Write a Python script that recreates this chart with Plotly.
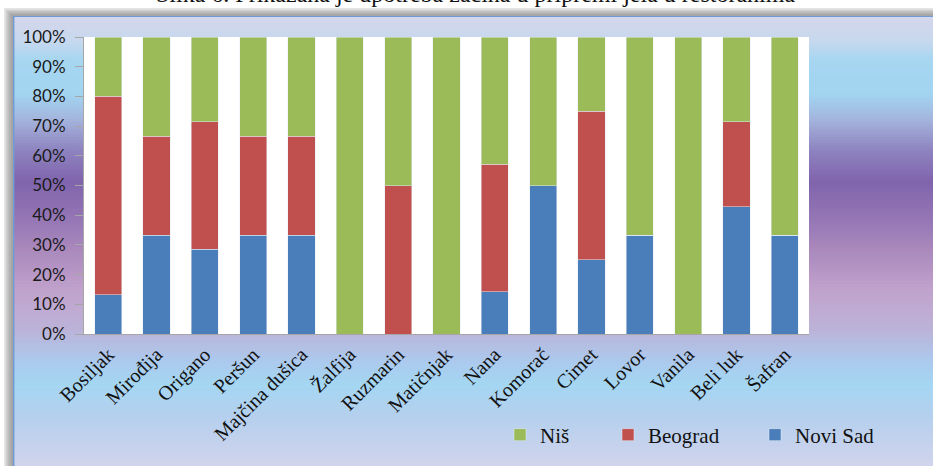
import plotly.graph_objects as go

categories = ["Bosiljak", "Mirođija", "Origano", "Peršun", "Majčina dušica", "Žalfija",
              "Ruzmarin", "Matičnjak", "Nana", "Komorač", "Cimet", "Lovor", "Vanila",
              "Beli luk", "Šafran"]
novi_sad = [13.3, 33.3, 28.6, 33.3, 33.3, 0, 0, 0, 14.3, 50, 25, 33.3, 0, 42.9, 33.3]
beograd = [66.7, 33.3, 42.9, 33.3, 33.3, 0, 50, 0, 42.9, 0, 50, 0, 0, 28.6, 0]
nis = [20.0, 33.4, 28.5, 33.4, 33.4, 100, 50, 100, 42.8, 50, 25, 66.7, 100, 28.5, 66.7]
y_ticks = [0, 10, 20, 30, 40, 50, 60, 70, 80, 90, 100]
y_tick_labels = ["0%", "10%", "20%", "30%", "40%", "50%", "60%", "70%", "80%", "90%", "100%"]
title_text = "Slika 6. Prikazana je upotreba začina u pripremi jela u restoranima"

W, H = 933, 466
ML, MR, MT, MB = 84, 124, 37, 131
PW, PH = W - ML - MR, H - MT - MB


def px(x):
    return (x - ML) / PW


def py(y):
    return (H - MB - y) / PH


def hex2rgb(h):
    h = h.lstrip('#')
    return tuple(int(h[i:i + 2], 16) for i in (0, 2, 4))


stops = [(17, '#d4d6ec'), (40, '#c8d8ee'), (60, '#a6d6f0'), (95, '#a2d4f0'), (120, '#a4b4dc'),
         (150, '#8e84c0'), (182, '#8064ac'), (215, '#9274b4'), (250, '#aa88bc'), (290, '#c2a2cc'),
         (330, '#bcb2d8'), (360, '#acc8ec'), (385, '#a4d6f2'), (420, '#b6d0ee'), (466, '#d0d4ec')]


def color_at(y):
    for (y0, c0), (y1, c1) in zip(stops[:-1], stops[1:]):
        if y0 <= y <= y1:
            t = (y - y0) / (y1 - y0)
            a, b = hex2rgb(c0), hex2rgb(c1)
            return 'rgb(%d,%d,%d)' % tuple(round(a[i] + (b[i] - a[i]) * t) for i in range(3))
    return stops[-1][1]


shapes = []
# shadow of the chart frame
for i, c in enumerate(['#e4e4e4', '#cfcfcf', '#bdbdbd', '#b0b0b0', '#a4a4a4']):
    shapes.append(dict(type='rect', xref='paper', yref='paper', layer='below',
                       x0=px(4 + i * 1.8), x1=px(W + 5), y0=py(8 + i * 1.6), y1=py(H + 5),
                       fillcolor=c, line_width=0))
# frame border
shapes.append(dict(type='rect', xref='paper', yref='paper', layer='below',
                   x0=px(13), x1=px(W + 5), y0=py(16), y1=py(H + 5),
                   fillcolor='#6f9bd6', line_width=0))
# gradient background
step = 3
y = 17
while y < H:
    shapes.append(dict(type='rect', xref='paper', yref='paper', layer='below',
                       x0=px(14.5), x1=px(W + 5), y0=py(y), y1=py(y + step + 0.6),
                       fillcolor=color_at(y + step / 2), line_width=0))
    y += step
# white plot area
shapes.append(dict(type='rect', xref='paper', yref='paper', layer='below',
                   x0=0, x1=1, y0=0, y1=1, fillcolor='white', line_width=0))

fig = go.Figure()
fig.add_trace(go.Bar(x=categories, y=novi_sad, name='Novi Sad', marker_color='#4a7ebb',
                     legend='legend3'))
fig.add_trace(go.Bar(x=categories, y=beograd, name='Beograd', marker_color='#c0504d',
                     legend='legend2'))
fig.add_trace(go.Bar(x=categories, y=nis, name='Niš', marker_color='#9bbb59',
                     legend='legend'))

leg_font = dict(family='Liberation Serif', size=21, color='#111111')
leg_common = dict(orientation='h', yanchor='middle', y=py(435), xanchor='left',
                  bgcolor='rgba(0,0,0,0)', font=leg_font)

fig.update_layout(
    width=W, height=H,
    margin=dict(l=ML, r=MR, t=MT, b=MB),
    paper_bgcolor='white', plot_bgcolor='white',
    barmode='stack', bargap=0.44,
    showlegend=True,
    legend=dict(x=px(500), **leg_common),
    legend2=dict(x=px(608), **leg_common),
    legend3=dict(x=px(755), **leg_common),
    shapes=shapes,
    xaxis=dict(tickangle=-45, tickfont=dict(family='Liberation Serif', size=20, color='#111111'),
               showline=True, linecolor='#a6a6a6', linewidth=1, ticks='',
               showgrid=False, fixedrange=True),
    yaxis=dict(range=[0, 100], tickvals=y_ticks, ticktext=y_tick_labels,
               tickfont=dict(family='Lato', size=17, color='#1a1a1a'),
               ticklabelstandoff=6,
               showline=True, linecolor='#a6a6a6', linewidth=1,
               ticks='outside', ticklen=8, tickcolor='#a6a6a6',
               showgrid=False, zeroline=False, fixedrange=True),
    annotations=[dict(text=title_text, xref='paper', yref='paper', x=px(476), y=py(9),
                      xanchor='center', yanchor='bottom', showarrow=False,
                      font=dict(family='Liberation Serif', size=24, color='#111111'))],
)

fig.write_html("out.html")
